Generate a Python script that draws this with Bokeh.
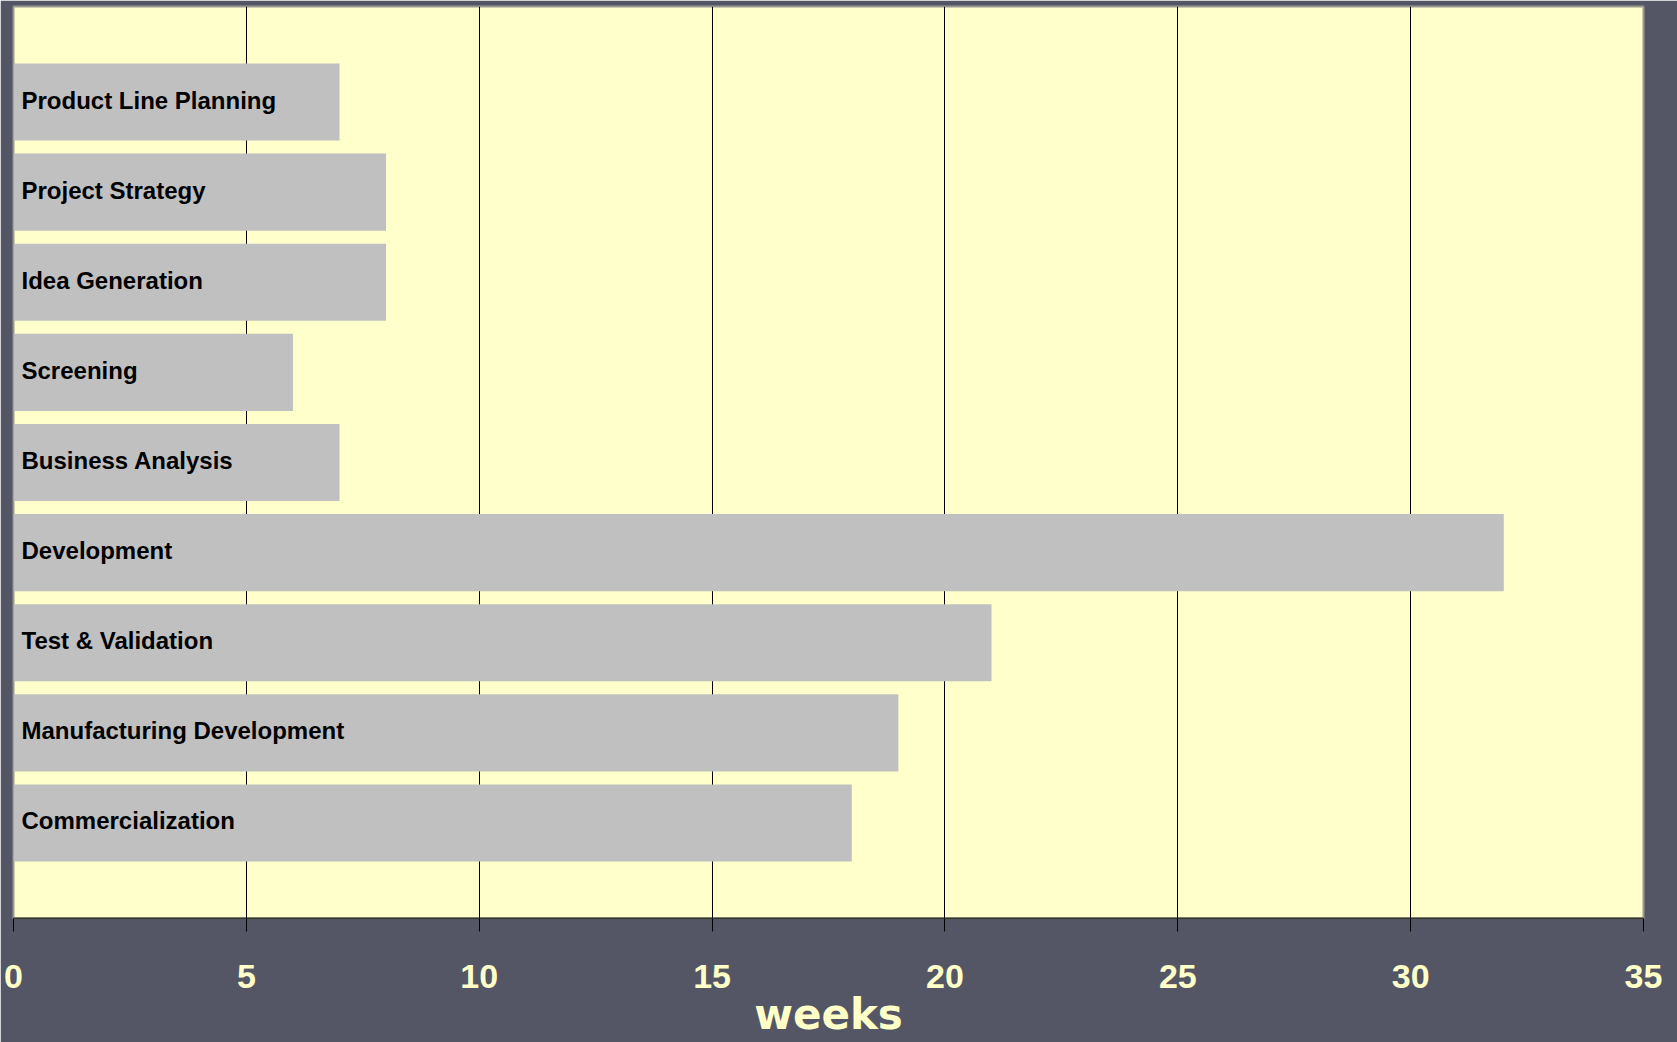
from bokeh.plotting import figure
from bokeh.models import ColumnDataSource, FactorRange, FixedTicker
from bokeh.core.properties import value
from bokeh.embed import file_html
from bokeh.resources import INLINE

stages = ["Product Line Planning", "Project Strategy", "Idea Generation", "Screening",
          "Business Analysis", "Development", "Test & Validation",
          "Manufacturing Development", "Commercialization"]
weeks = [7, 8, 8, 6, 7, 32, 21, 19, 18]
x_ticks = [0, 5, 10, 15, 20, 25, 30, 35]
x_title = "weeks"

BG = "#545666"
CREAM = "#FFFFC8"

src = ColumnDataSource(dict(stage=stages, weeks=weeks, zero=[0] * len(stages)))

p = figure(width=1677, height=1042, output_backend="svg", toolbar_location=None,
           y_range=FactorRange(factors=list(reversed(stages)), range_padding=0.56,
                               range_padding_units="absolute"),
           x_range=(0, 35),
           min_border_left=13, min_border_right=34, min_border_top=6, min_border_bottom=124)

p.background_fill_color = "#FFFFCC"
p.border_fill_color = BG
p.outline_line_color = "#9a9a90"
p.outline_line_width = 2

p.hbar(y="stage", left=0, right="weeks", height=0.855, source=src,
       fill_color="#C0C0C0", line_color=None)

p.text(x="zero", y="stage", text="stage", source=src, x_offset=8, y_offset=-2,
       text_baseline="middle", text_align="left",
       text_font=value("Liberation Sans"), text_font_style="bold",
       text_font_size="24px", text_color="black")

p.yaxis.visible = False
p.ygrid.visible = False
p.xgrid.grid_line_color = "black"
p.xgrid.grid_line_width = 1
p.xgrid.ticker = FixedTicker(ticks=x_ticks)

xa = p.xaxis[0]
xa.ticker = FixedTicker(ticks=x_ticks)
xa.axis_line_color = "#333333"
xa.axis_line_width = 2
xa.major_tick_line_color = "black"
xa.major_tick_out = 13
xa.major_tick_in = 0
xa.minor_tick_line_color = None
xa.major_label_text_font = "Liberation Sans"
xa.major_label_text_font_style = "bold"
xa.major_label_text_font_size = "34px"
xa.major_label_text_color = CREAM
xa.major_label_standoff = 33
xa.axis_label = x_title
xa.axis_label_text_font = "DejaVu Sans"
xa.axis_label_text_font_style = "bold"
xa.axis_label_text_font_size = "42px"
xa.axis_label_text_color = CREAM
xa.axis_label_text_line_height = 0.8
xa.axis_label_standoff = -1

open("out.html", "w").write(file_html(p, INLINE))
